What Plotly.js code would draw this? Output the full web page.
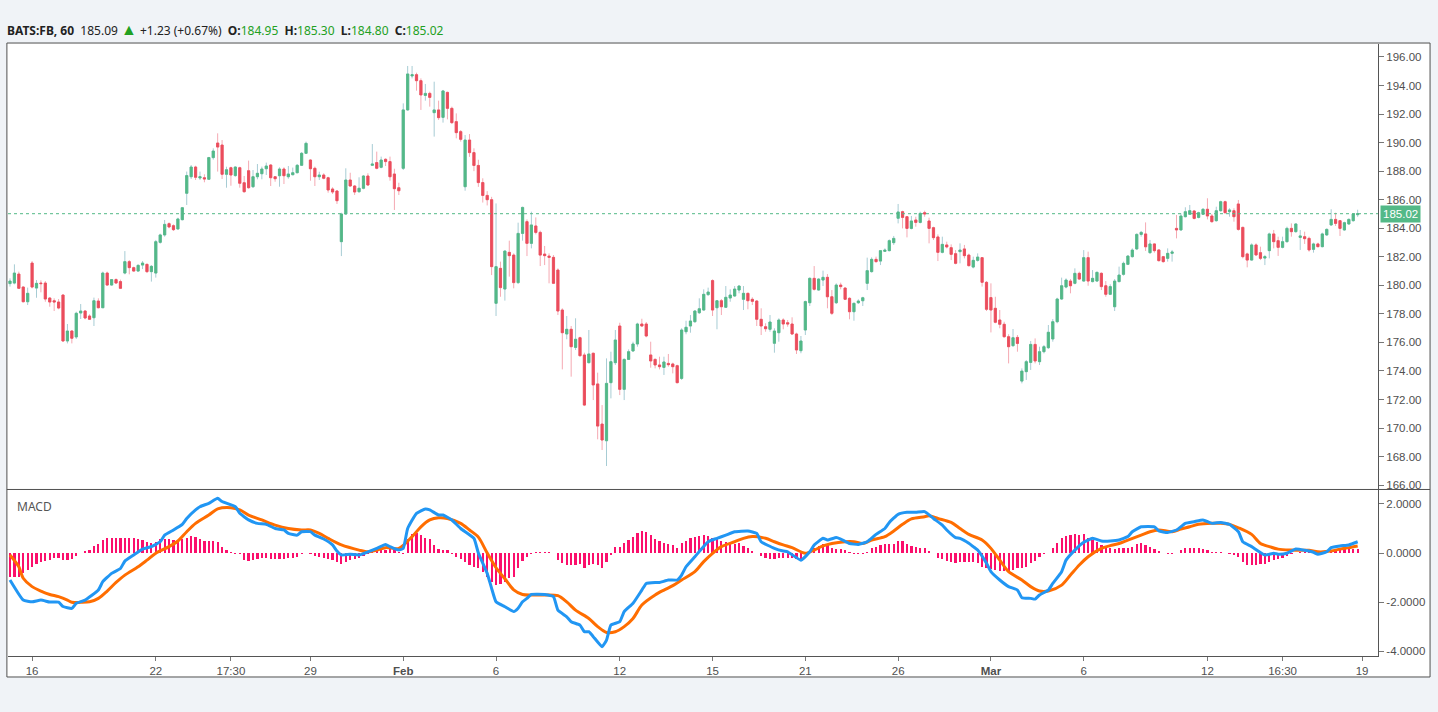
<!DOCTYPE html>
<html><head><meta charset="utf-8">
<script src="https://cdn.plot.ly/plotly-3.0.1.min.js"></script>
<style>html,body{margin:0;padding:0;background:#f0f3f7;}#chart{width:1438px;height:712px;}</style>
</head><body><div id="chart"></div>
<script>
const openP=[180.12,180.16,180.79,179.88,178.85,181.56,179.81,180.16,180.16,179.11,178.92,178.83,179.32,176.10,176.80,176.38,178.06,178.20,177.85,177.73,178.90,178.43,180.86,180.02,180.40,180.26,180.86,181.66,181.24,181.00,181.42,181.47,180.96,180.86,183.01,183.53,184.32,184.18,183.95,184.60,186.45,187.61,188.29,187.52,187.54,187.43,188.95,189.97,189.83,187.78,188.24,187.69,188.24,187.19,188.03,186.91,187.61,187.82,188.17,188.43,187.61,187.68,188.15,187.61,187.75,187.89,188.41,189.25,188.78,188.20,187.61,187.73,187.54,186.75,186.61,183.06,185.00,187.38,186.96,186.56,186.80,187.66,188.41,188.60,188.27,188.83,188.67,187.80,186.84,188.20,192.29,194.67,194.76,194.34,193.31,193.45,192.10,192.29,191.77,193.52,192.40,191.47,190.77,186.91,190.18,189.30,188.40,187.20,186.30,186.00,178.74,181.19,179.74,182.31,182.12,180.19,183.64,184.46,182.94,184.16,183.71,182.19,182.05,181.96,181.07,178.27,176.59,176.92,175.65,176.33,175.12,174.58,175.24,173.09,170.28,169.11,173.18,174.58,177.15,172.71,174.81,175.40,175.89,177.29,177.29,175.12,174.81,174.42,174.25,174.53,174.49,174.37,173.48,176.75,177.15,177.45,178.08,178.27,179.35,180.33,178.43,178.92,178.46,179.11,179.25,179.67,179.02,179.44,179.02,178.90,177.62,177.10,176.92,175.94,176.68,177.57,177.38,177.29,176.59,175.42,176.87,178.78,180.49,179.67,180.37,180.56,179.20,178.78,180.02,179.81,179.09,178.15,178.78,178.92,180.14,180.96,181.82,181.70,182.38,182.43,182.99,184.70,185.16,184.81,183.99,184.58,184.41,185.09,184.51,184.04,183.39,182.31,182.83,182.64,182.22,182.36,182.55,182.12,181.28,181.75,181.94,180.21,179.14,178.39,177.57,177.27,176.40,175.77,176.35,173.29,173.95,174.60,175.86,174.65,175.35,175.63,176.24,177.45,179.04,179.88,180.30,180.14,180.84,180.30,181.94,180.26,180.30,180.84,179.97,179.37,178.50,180.26,180.77,181.47,182.01,182.55,183.57,183.60,182.29,182.90,182.48,182.01,181.89,182.24,183.99,183.88,184.81,184.98,185.21,184.76,184.98,185.33,184.86,184.53,185.23,185.86,185.16,185.23,185.70,184.06,182.20,181.77,182.83,182.29,181.91,182.43,183.60,183.13,182.66,183.06,183.99,183.76,183.36,183.41,183.29,182.52,182.90,182.71,183.53,184.23,184.62,184.53,183.88,184.30,184.53,184.95];
const highP=[180.49,181.47,180.96,179.93,179.84,181.70,180.37,180.35,180.30,179.18,179.09,179.04,179.37,177.29,176.87,178.15,178.69,178.27,177.97,179.14,179.09,180.96,180.96,180.44,180.49,180.40,182.40,181.77,181.31,181.47,181.70,181.52,181.42,183.18,183.62,184.58,184.41,184.27,184.74,185.49,187.97,188.43,188.38,187.97,187.78,189.00,189.60,190.65,190.18,188.31,188.31,188.33,188.31,187.66,188.74,188.08,188.50,188.32,188.60,188.50,187.66,188.27,188.27,188.36,188.25,188.50,189.34,190.07,188.83,188.32,187.96,187.85,187.61,186.87,186.68,185.09,188.20,187.89,187.03,187.57,187.73,187.85,189.90,189.37,189.02,188.90,189.02,188.17,187.19,192.75,195.37,195.37,194.90,194.50,194.11,193.57,194.27,192.94,193.69,193.57,192.52,192.05,190.88,190.53,190.60,189.60,188.80,187.50,186.60,186.20,185.74,181.66,182.47,183.13,182.24,184.39,185.51,184.62,185.16,184.76,183.83,182.76,182.24,182.12,181.19,178.39,177.85,177.15,177.69,176.40,175.28,176.87,175.28,173.88,171.61,174.88,175.35,176.87,177.38,174.88,175.51,176.05,177.38,177.66,177.43,176.05,174.88,175.00,175.00,175.19,174.58,174.44,176.99,177.52,177.92,178.27,179.09,179.72,179.84,180.42,178.97,179.04,179.95,179.72,179.95,180.00,179.95,179.48,179.16,178.97,178.39,177.34,177.92,176.99,177.69,177.69,177.57,177.76,176.68,176.45,178.93,180.56,181.35,180.49,181.03,180.79,179.67,180.14,180.19,179.86,179.16,178.78,179.02,179.20,181.94,181.96,182.01,182.47,182.59,183.22,183.46,185.70,185.23,184.86,184.86,184.81,185.16,185.23,184.74,184.11,183.57,183.41,183.06,182.87,182.47,182.94,182.83,182.22,182.01,182.24,181.98,180.30,180.14,179.20,178.27,177.45,176.57,176.94,176.52,174.18,174.77,176.10,176.28,175.70,175.82,177.22,177.64,179.13,180.54,180.49,180.44,181.19,180.96,182.47,182.36,181.07,180.96,180.91,180.30,180.07,180.44,181.31,181.66,182.12,182.59,183.64,183.81,184.41,183.18,182.94,182.52,182.06,182.59,182.48,184.93,185.04,185.47,185.63,185.28,185.16,185.40,186.10,185.00,185.51,185.93,185.93,185.40,185.40,185.98,184.11,182.29,182.94,182.94,182.71,182.13,183.69,183.88,183.41,183.41,184.11,184.34,184.34,183.88,183.76,183.41,182.99,182.99,183.69,183.99,185.33,185.09,184.58,184.46,184.69,185.04,185.30];
const lowP=[179.91,180.07,179.74,178.81,178.62,179.79,179.13,179.51,178.85,178.50,178.20,178.32,176.05,175.93,175.93,176.24,177.64,177.62,177.57,177.15,178.39,178.41,179.98,179.98,180.12,179.74,180.77,180.77,180.96,180.96,181.14,180.86,180.26,180.54,182.92,183.41,184.00,183.81,183.90,184.55,185.63,187.45,187.38,187.38,187.22,187.38,188.81,187.97,187.45,186.84,186.98,187.61,186.84,186.49,186.77,186.82,187.43,187.43,187.73,186.96,187.26,186.91,187.10,187.47,187.71,187.85,188.36,189.20,187.33,186.96,187.38,187.43,186.49,186.40,185.70,182.05,184.93,186.91,186.33,186.49,186.73,186.96,188.36,188.13,188.20,188.36,187.33,185.28,186.33,188.08,192.24,194.50,193.64,192.29,192.94,192.52,190.42,191.59,191.40,191.63,191.30,190.30,190.07,186.63,189.00,188.00,186.90,185.80,185.60,180.72,177.85,179.20,178.93,180.61,179.79,180.09,183.13,182.05,182.59,183.57,181.35,181.42,180.14,180.09,177.92,174.11,176.22,173.60,175.47,175.00,171.54,174.53,171.96,169.21,168.46,167.34,172.08,174.42,172.31,171.96,174.77,175.33,175.70,177.10,176.36,174.23,174.18,174.11,173.72,174.30,173.83,173.13,173.37,176.57,176.68,177.38,177.99,178.22,179.25,177.85,176.92,177.92,178.46,178.85,179.20,179.44,178.27,178.32,178.62,177.15,176.52,176.75,176.75,175.28,176.05,176.92,177.10,176.52,175.19,175.24,176.52,178.55,179.63,179.63,179.95,178.39,177.92,178.69,179.72,178.97,177.62,177.52,178.69,178.55,179.67,180.89,181.59,181.42,182.34,182.38,182.83,184.34,183.99,183.36,183.92,184.11,184.34,184.81,182.94,183.18,181.70,182.24,182.59,181.77,181.47,181.54,181.89,181.31,181.19,181.66,179.91,178.20,176.70,177.34,176.99,176.33,174.53,175.70,175.35,173.13,173.37,174.07,174.53,174.42,175.23,175.54,176.05,177.34,178.97,179.79,179.44,180.07,180.37,180.26,179.97,180.21,180.26,179.67,179.20,179.32,178.20,180.21,180.68,181.42,181.94,182.47,183.41,182.41,182.20,182.29,181.66,181.59,181.66,181.66,183.29,183.83,184.76,184.93,184.62,184.69,184.93,184.62,184.39,184.46,185.16,185.04,184.81,184.46,183.83,181.89,181.26,181.73,182.06,181.77,181.42,181.89,182.59,182.06,182.59,182.99,183.41,183.69,182.48,182.90,182.36,182.29,182.66,182.66,183.46,184.16,184.16,183.46,183.83,184.23,184.46,184.80];
const closeP=[180.30,180.86,179.79,178.85,179.44,179.88,180.14,180.12,179.04,178.83,178.83,178.41,176.10,176.80,176.29,178.04,178.20,177.71,177.62,178.92,178.43,180.86,180.02,180.40,180.16,179.79,181.66,181.24,181.00,181.40,181.56,180.96,181.33,183.06,183.53,184.27,184.09,183.90,184.65,185.44,187.69,188.29,187.57,187.61,187.45,188.95,189.41,189.69,187.78,188.10,187.73,188.29,187.15,186.56,186.84,187.61,187.85,188.15,188.36,187.54,187.47,188.15,187.68,187.80,187.89,188.41,189.25,189.95,188.17,187.61,187.73,187.50,186.68,186.54,185.93,185.00,187.38,186.96,186.54,186.80,187.66,187.03,188.50,188.20,188.78,188.67,187.61,186.77,186.63,192.29,194.81,194.76,194.34,193.34,193.45,193.17,192.29,191.75,193.62,192.40,191.40,190.70,190.23,190.18,189.30,188.40,187.20,186.30,186.00,181.31,181.31,179.84,182.40,182.08,180.19,183.64,185.46,182.94,184.23,183.71,182.12,182.08,181.96,180.14,178.20,176.68,176.92,175.70,176.22,175.07,171.61,175.19,173.02,170.14,169.16,173.13,174.65,176.17,172.71,174.81,175.35,175.89,177.29,177.15,176.45,174.70,174.42,174.30,174.63,174.44,174.30,173.18,176.87,177.06,177.50,178.20,178.36,179.37,179.53,178.27,178.92,178.50,179.16,179.32,179.74,179.95,179.44,178.92,178.88,177.62,177.15,176.96,177.43,176.80,177.57,177.29,177.29,176.59,175.47,176.10,178.86,180.49,179.72,180.44,180.56,179.20,178.04,180.02,179.91,179.02,178.15,178.74,178.90,179.13,181.03,181.82,181.66,182.43,182.47,183.13,183.29,185.14,184.76,183.99,184.51,184.41,185.04,185.00,183.99,183.34,182.31,182.87,182.69,182.17,181.54,182.47,182.08,181.38,181.75,181.98,180.21,178.32,178.27,177.41,177.27,176.40,175.70,176.33,175.93,173.99,174.65,175.86,174.70,175.35,175.70,176.71,177.45,179.04,179.97,180.37,179.97,180.84,180.44,181.94,180.30,180.49,180.91,179.91,179.37,179.91,180.30,180.72,181.54,182.05,182.47,183.57,183.71,182.70,182.90,182.43,181.73,181.66,182.24,182.34,183.88,184.86,185.16,185.23,184.69,185.09,185.33,184.86,184.46,185.23,185.86,185.09,185.28,184.81,183.92,182.01,181.77,182.83,182.13,181.89,182.01,183.60,183.06,182.66,183.06,183.99,183.76,184.30,183.46,183.27,182.48,182.90,182.71,183.60,183.92,184.62,184.34,183.99,184.39,184.62,185.00,185.02];
const histVal=[-0.97,-0.97,-0.97,-0.83,-0.69,-0.56,-0.46,-0.38,-0.33,-0.29,-0.22,-0.19,-0.29,-0.29,-0.24,-0.11,0.02,0.08,0.14,0.30,0.35,0.53,0.60,0.63,0.63,0.60,0.60,0.60,0.60,0.57,0.53,0.46,0.39,0.46,0.57,0.57,0.57,0.53,0.49,0.57,0.63,0.71,0.67,0.57,0.49,0.49,0.49,0.44,0.26,0.12,0.05,-0.02,-0.05,-0.29,-0.33,-0.29,-0.24,-0.22,-0.22,-0.24,-0.24,-0.24,-0.24,-0.22,-0.19,-0.15,-0.05,0.02,-0.03,-0.11,-0.15,-0.19,-0.24,-0.29,-0.35,-0.46,-0.35,-0.29,-0.24,-0.22,-0.11,-0.03,0.08,0.11,0.14,0.14,0.16,0.14,0.05,-0.03,0.57,0.76,0.80,0.73,0.63,0.57,0.33,0.16,0.14,0.11,-0.05,-0.15,-0.24,-0.38,-0.49,-0.56,-0.63,-0.76,-0.97,-1.17,-1.31,-1.28,-1.17,-1.01,-0.97,-0.63,-0.33,-0.15,-0.05,0.05,0.03,0.03,0.03,0.02,-0.29,-0.42,-0.49,-0.49,-0.49,-0.46,-0.63,-0.49,-0.46,-0.49,-0.63,-0.38,-0.08,0.26,0.26,0.39,0.53,0.67,0.80,0.90,0.84,0.73,0.57,0.49,0.39,0.35,0.33,0.22,0.39,0.49,0.60,0.67,0.71,0.73,0.71,0.63,0.57,0.49,0.44,0.39,0.35,0.39,0.30,0.19,0.08,0.02,-0.11,-0.19,-0.24,-0.24,-0.22,-0.19,-0.19,-0.19,-0.24,-0.29,0.02,0.12,0.19,0.30,0.35,0.33,0.19,0.16,0.16,0.12,0.05,-0.03,-0.03,-0.03,0.05,0.19,0.26,0.33,0.35,0.35,0.35,0.49,0.49,0.35,0.30,0.26,0.22,0.19,0.08,0.02,-0.19,-0.24,-0.33,-0.38,-0.42,-0.38,-0.38,-0.38,-0.38,-0.42,-0.56,-0.63,-0.65,-0.69,-0.73,-0.73,-0.73,-0.69,-0.63,-0.63,-0.56,-0.42,-0.33,-0.15,-0.05,0.02,0.19,0.39,0.63,0.71,0.73,0.76,0.73,0.76,0.63,0.53,0.44,0.33,0.26,0.22,0.16,0.19,0.19,0.22,0.26,0.35,0.39,0.33,0.26,0.16,0.08,0.02,-0.03,-0.03,0.02,0.11,0.19,0.22,0.19,0.19,0.16,0.11,0.03,0.03,0.03,0.02,-0.03,-0.08,-0.15,-0.38,-0.49,-0.49,-0.49,-0.46,-0.46,-0.35,-0.29,-0.24,-0.19,-0.11,-0.05,0.02,0.05,0.05,0.03,0.02,0.02,0.03,0.08,0.11,0.14,0.14,0.16,0.16,0.16,0.16];
const macdIdx=[0,3,5,7,9,11,12,14,15,17,20,21,23,25,26,28,30,32,34,35,37,39,40,42,43,45,47,48,51,52,54,56,58,60,62,63,65,66,68,69,71,73,74,75,77,79,81,83,85,86,88,89,90,92,94,95,97,98,100,102,105,106,108,109,110,112,114,115,116,117,118,121,123,124,126,127,129,130,131,132,134,135,136,138,139,141,143,144,146,147,149,151,152,153,155,158,160,162,164,167,169,170,173,175,176,179,181,182,184,185,187,188,190,192,194,196,198,199,201,203,205,207,209,211,212,214,215,217,218,219,221,222,224,226,228,229,231,232,233,235,236,238,239,241,243,245,247,249,251,253,254,256,259,260,262,264,266,268,270,272,274,276,278,279,281,284,286,287,289,291,293,295,296,298,299,301,303,305];
const macdVal=[-1.1,-1.92,-1.99,-1.92,-2.0,-2.0,-2.18,-2.26,-2.05,-1.92,-1.51,-1.17,-0.83,-0.63,-0.33,-0.08,0.16,0.26,0.46,0.73,0.94,1.17,1.41,1.76,1.89,2.03,2.23,2.1,1.89,1.62,1.35,1.21,1.17,1.0,0.94,0.8,0.73,0.87,0.87,0.73,0.57,0.33,0.08,-0.08,-0.05,-0.08,0.05,0.19,0.35,0.26,0.12,0.19,1.0,1.62,1.8,1.76,1.55,1.55,1.35,1.0,0.6,0.0,-0.83,-1.44,-1.99,-2.19,-2.39,-2.25,-1.99,-1.85,-1.69,-1.69,-1.78,-2.33,-2.6,-2.8,-2.94,-3.21,-3.21,-3.41,-3.82,-3.55,-2.94,-2.8,-2.39,-2.05,-1.51,-1.24,-1.2,-1.2,-1.1,-1.1,-0.9,-0.56,-0.15,0.46,0.6,0.73,0.87,0.9,0.8,0.46,0.19,0.08,0.05,-0.29,0.05,0.33,0.6,0.53,0.63,0.57,0.39,0.35,0.46,0.76,1.0,1.25,1.58,1.66,1.66,1.69,1.41,1.14,0.94,0.63,0.6,0.4,0.26,0.12,-0.42,-0.76,-1.1,-1.37,-1.51,-1.82,-1.85,-1.88,-1.71,-1.51,-1.24,-0.76,-0.29,0.12,0.44,0.6,0.49,0.49,0.53,0.67,0.87,1.07,1.07,0.9,0.84,0.94,1.21,1.28,1.35,1.21,1.25,1.17,0.87,0.46,0.26,-0.08,-0.01,-0.05,-0.01,0.16,0.11,0.03,-0.05,0.05,0.22,0.29,0.33,0.46];
const sigIdx=[0,2,3,5,7,9,11,13,14,16,18,20,22,24,26,29,31,33,36,38,40,42,45,47,50,52,54,57,60,63,66,68,70,72,75,79,81,83,85,88,91,93,95,97,99,102,104,106,108,110,112,114,116,118,121,124,126,128,131,133,135,137,139,141,143,146,148,150,152,155,157,159,161,164,166,168,171,173,175,177,180,182,184,186,189,191,193,195,198,200,202,204,207,208,210,213,215,217,220,222,224,226,229,231,233,235,238,240,242,244,247,249,251,253,256,258,260,263,265,267,269,272,274,276,278,281,283,285,287,290,292,294,296,299,301,303,305];
const sigVal=[-0.08,-0.56,-1.03,-1.37,-1.55,-1.69,-1.78,-1.92,-2.01,-2.01,-1.99,-1.85,-1.55,-1.2,-0.9,-0.56,-0.29,-0.01,0.26,0.49,0.87,1.21,1.55,1.8,1.85,1.76,1.55,1.35,1.14,1.0,0.94,0.94,0.8,0.6,0.33,0.12,0.05,0.12,0.22,0.19,0.67,1.07,1.35,1.44,1.41,1.21,0.94,0.65,0.0,-0.6,-1.05,-1.5,-1.69,-1.71,-1.71,-1.74,-1.99,-2.33,-2.67,-3.0,-3.24,-3.21,-3.0,-2.67,-2.12,-1.71,-1.51,-1.33,-1.1,-0.76,-0.35,-0.01,0.26,0.46,0.6,0.67,0.6,0.46,0.33,0.22,-0.01,0.12,0.29,0.39,0.46,0.46,0.39,0.53,0.67,0.9,1.17,1.39,1.48,1.52,1.41,1.25,1.0,0.76,0.53,0.19,-0.29,-0.76,-1.1,-1.37,-1.55,-1.55,-1.31,-0.9,-0.49,-0.15,0.19,0.3,0.39,0.53,0.73,0.87,0.94,0.87,0.98,1.07,1.17,1.21,1.21,1.17,1.03,0.76,0.39,0.26,0.16,0.12,0.11,0.11,0.05,0.08,0.16,0.22,0.29];
const tickIdx=[5,33,50,68,89,110,138,159,180,201,222,243,271,288,306];
const tickLbl=['16','22','17:30','29','<b>Feb</b>','6','12','15','21','26','<b>Mar</b>','6','12','16:30','19'];

const idx=openP.map((_,i)=>i);
const bodyHi=openP.map((o,i)=>Math.max(o,closeP[i]));
const bodyLo=openP.map((o,i)=>Math.min(o,closeP[i]));
const GREEN='#53b987', RED='#eb4d5c';
const axFont={family:'Liberation Sans, Arial, sans-serif',size:11.5,color:'#4f4f4f'};

const traces=[
 {type:'candlestick',x:idx,open:openP,high:highP,low:lowP,close:closeP,xaxis:'x',yaxis:'y',
  increasing:{line:{color:'#a7ccd4',width:1},fillcolor:'#a7ccd4'},
  decreasing:{line:{color:'#f5a9b2',width:1},fillcolor:'#f5a9b2'},
  width:0.12,hoverinfo:'skip',showlegend:false},
 {type:'candlestick',x:idx,open:openP,high:bodyHi,low:bodyLo,close:closeP,xaxis:'x',yaxis:'y',
  increasing:{line:{color:GREEN,width:0.8},fillcolor:GREEN},
  decreasing:{line:{color:RED,width:0.8},fillcolor:RED},
  width:0.5,hoverinfo:'skip',showlegend:false},
 {type:'bar',x:idx,y:histVal,xaxis:'x',yaxis:'y2',marker:{color:'#fb0f6c',line:{width:0}},width:0.5,hoverinfo:'skip'},
 {type:'scatter',mode:'lines',x:sigIdx,y:sigVal,xaxis:'x',yaxis:'y2',line:{color:'#ff6d00',width:3,shape:'spline',smoothing:0.8},hoverinfo:'skip'},
 {type:'scatter',mode:'lines',x:macdIdx,y:macdVal,xaxis:'x',yaxis:'y2',line:{color:'#2196f3',width:3,shape:'spline',smoothing:0.4},hoverinfo:'skip'}
];

const G='#22a022';
const hdr='<b>BATS:FB, 60</b>&nbsp;&nbsp;185.09 <span style="color:'+G+';font-size:16px">▲</span>&nbsp;+1.23 (+0.67%)&nbsp; <b>O:</b><span style="color:'+G+'">184.95</span>&nbsp; <b>H:</b><span style="color:'+G+'">185.30</span>&nbsp; <b>L:</b><span style="color:'+G+'">184.80</span>&nbsp; <b>C:</b><span style="color:'+G+'">185.02</span>';

const layout={
 width:1438,height:712,margin:{l:8,r:60,t:44,b:56},
 paper_bgcolor:'#f0f3f7',plot_bgcolor:'#ffffff',showlegend:false,bargap:0,
 xaxis:{range:[-0.45,309.6],anchor:'y2',tickmode:'array',tickvals:tickIdx,ticktext:tickLbl,ticks:'outside',ticklen:4,tickcolor:'#777',
  showline:true,linecolor:'#555',linewidth:1,showgrid:false,zeroline:false,rangeslider:{visible:false},tickfont:axFont,fixedrange:true},
 yaxis:{domain:[0.2729,1],side:'right',anchor:'x',range:[165.73,196.91],tickmode:'linear',tick0:0,dtick:2,tickformat:'.2f',ticks:'outside',ticklen:5,tickcolor:'#777',
  showline:true,linecolor:'#555',linewidth:1,showgrid:false,zeroline:false,tickfont:axFont},
 yaxis2:{domain:[0,0.2712],side:'right',anchor:'x',range:[-4.2,2.57],tickmode:'array',tickvals:[-4,-2,0,2],ticktext:['-4.0000','-2.0000','0.0000','2.0000'],ticks:'outside',ticklen:5,tickcolor:'#777',
  showline:true,linecolor:'#555',linewidth:1,showgrid:false,zeroline:false,tickfont:axFont},
 shapes:[
  {type:'rect',xref:'paper',yref:'paper',x0:-0.0008,x1:1.038,y0:-0.0343,y1:1.0016,fillcolor:'#ffffff',line:{color:'#505050',width:1},layer:'below'},
  {type:'line',xref:'paper',yref:'paper',x0:-0.0008,x1:1.038,y0:0.2721,y1:0.2721,line:{color:'#505050',width:1}},
  {type:'line',xref:'paper',yref:'y',x0:0,x1:1,y0:185.02,y1:185.02,line:{color:'#53b987',width:1,dash:'dot'}}
 ],
 annotations:[
  {xref:'paper',yref:'paper',x:-0.0025,y:1.0245,xanchor:'left',yanchor:'middle',showarrow:false,text:hdr,font:{family:'Noto Sans, sans-serif',size:12,color:'#222'}},
  {xref:'paper',yref:'y',x:1.0015,y:185.02,xanchor:'left',yanchor:'middle',showarrow:false,text:'185.02',bgcolor:'#53b987',borderpad:2,font:{family:'Liberation Sans, Arial, sans-serif',size:11.5,color:'#ffffff'}},
  {xref:'paper',yref:'paper',x:0.0051,y:0.2435,xanchor:'left',yanchor:'middle',showarrow:false,text:'MACD',font:{family:'Noto Sans, sans-serif',size:12,color:'#555'}}
 ]
};
Plotly.newPlot('chart',traces,layout,{displayModeBar:false,staticPlot:true});
</script></body></html>
